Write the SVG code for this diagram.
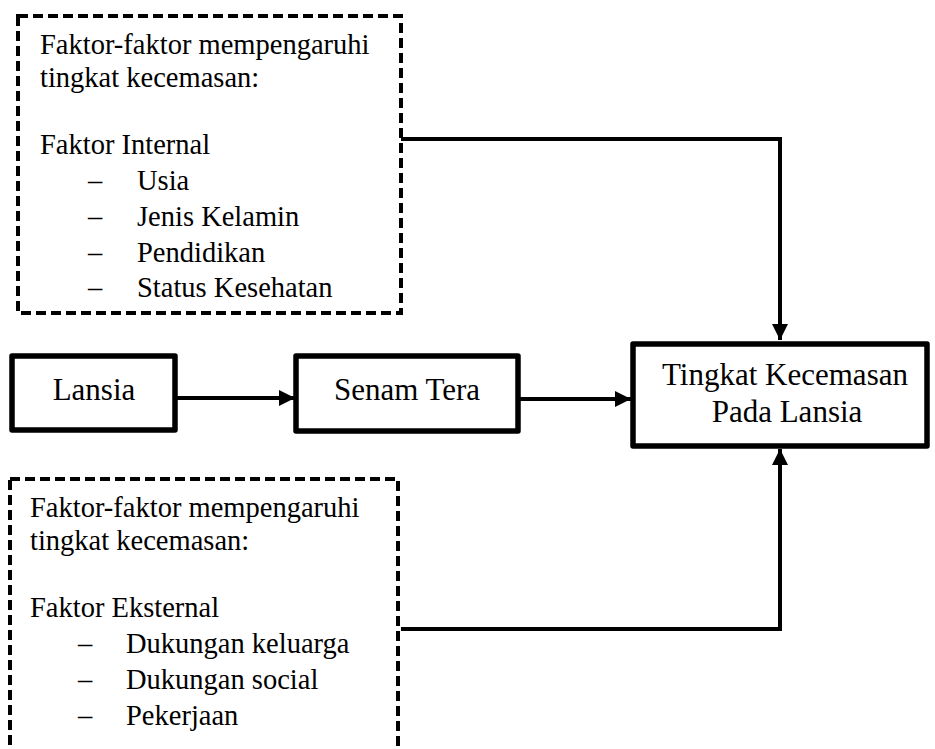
<svg xmlns="http://www.w3.org/2000/svg" width="935" height="749" viewBox="0 0 935 749">
  <style>
    .t { font-family: 'Liberation Serif', 'DejaVu Serif', serif; font-size: 28.5px; fill: #000; }
    .lbl { font-family: 'Liberation Serif', 'DejaVu Serif', serif; font-size: 31px; fill: #000; text-anchor: middle; }
    .dash { fill: none; stroke: #000; stroke-width: 4; stroke-dasharray: 10 5; }
    .box { fill: #fff; stroke: #000; stroke-width: 5.5; stroke-linejoin: round; }
    .conn { fill: none; stroke: #000; stroke-width: 4; }
  </style>
  <defs>
    <marker id="arr" markerUnits="userSpaceOnUse" markerWidth="16" markerHeight="16" viewBox="0 0 16 16" refX="16" refY="8" orient="auto">
      <path d="M0,0 L16,8 L0,16 Z" fill="#000"/>
    </marker>
  </defs>
  <rect width="935" height="749" fill="#fff"/>

  <g id="internal">
    <rect class="dash" x="18" y="16" width="383" height="297"/>
    <text class="t" x="40" y="54">Faktor-faktor mempengaruhi</text>
    <text class="t" x="40" y="87">tingkat kecemasan:</text>
    <text class="t" x="40" y="154">Faktor Internal</text>
    <text class="t" x="88" y="190">–</text><text class="t" x="137" y="190">Usia</text>
    <text class="t" x="88" y="226">–</text><text class="t" x="137" y="226">Jenis Kelamin</text>
    <text class="t" x="88" y="262">–</text><text class="t" x="137" y="262">Pendidikan</text>
    <text class="t" x="88" y="297">–</text><text class="t" x="137" y="297">Status Kesehatan</text>
  </g>

  <g id="external">
    <rect class="dash" x="10" y="479" width="388" height="300"/>
    <text class="t" x="30" y="517">Faktor-faktor mempengaruhi</text>
    <text class="t" x="30" y="550">tingkat kecemasan:</text>
    <text class="t" x="30" y="617">Faktor Eksternal</text>
    <text class="t" x="78" y="653">–</text><text class="t" x="126" y="653">Dukungan keluarga</text>
    <text class="t" x="78" y="689">–</text><text class="t" x="126" y="689">Dukungan social</text>
    <text class="t" x="78" y="725">–</text><text class="t" x="126" y="725">Pekerjaan</text>
  </g>

  <g id="lansia">
    <rect class="box" x="12" y="356" width="163" height="74"/>
    <text class="lbl" x="94" y="400">Lansia</text>
  </g>

  <g id="senam">
    <rect class="box" x="296" y="356" width="222" height="75"/>
    <text class="lbl" x="407" y="400">Senam Tera</text>
  </g>

  <g id="tingkat">
    <rect class="box" x="633" y="344" width="294" height="102"/>
    <text class="lbl" x="785" y="385">Tingkat Kecemasan</text>
    <text class="lbl" x="787" y="422">Pada Lansia</text>
  </g>

  <g id="connectors">
    <line class="conn" x1="175" y1="398" x2="295" y2="398" marker-end="url(#arr)"/>
    <line class="conn" x1="518" y1="399" x2="631" y2="399" marker-end="url(#arr)"/>
    <polyline class="conn" points="401,139 780,139 780,340" marker-end="url(#arr)"/>
    <polyline class="conn" points="401,629 780,629 780,449" marker-end="url(#arr)"/>
  </g>
</svg>
